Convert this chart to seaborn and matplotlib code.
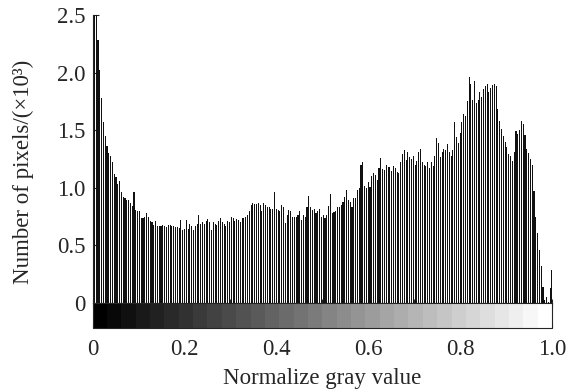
import numpy as np
import pandas as pd
import matplotlib
matplotlib.use("Agg")
import matplotlib.pyplot as plt
from matplotlib.colors import Normalize
from matplotlib.colorbar import ColorbarBase
import seaborn as sns

# pixel counts (x10^3) per gray level, 256 bins
counts_dark = [2.9, 2.7, 2.55, 2.28, 2.02, 1.78, 1.57, 1.45, 1.36, 1.30,
               1.28, 1.22, 1.12, 1.09, 1.03, 1.06, 0.96, 0.92, 0.91, 0.89,
               0.89, 0.87, 0.84, 0.96, 0.81, 0.80, 0.80, 0.74, 0.74, 0.75,
               0.78, 0.75, 0.71, 0.70, 0.68, 0.71, 0.67, 0.67, 0.67, 0.68,
               0.67]
counts_low = [0.66, 0.68, 0.68, 0.67, 0.67, 0.66, 0.66, 0.65, 0.72, 0.63,
              0.64, 0.72, 0.64, 0.69, 0.67, 0.63, 0.67, 0.69, 0.76, 0.69,
              0.70, 0.69, 0.71, 0.73, 0.70, 0.63, 0.70, 0.69, 0.68, 0.71,
              0.74, 0.70, 0.69, 0.67, 0.71, 0.70, 0.75, 0.74, 0.71, 0.73,
              0.72, 0.70, 0.74]
counts_mid = [0.74, 0.75, 0.76, 0.80, 0.85, 0.87, 0.86, 0.86, 0.87, 0.855,
              0.80, 0.87, 0.855, 0.83, 0.83, 0.82, 0.82, 0.96, 0.82, 0.81,
              0.80, 0.855, 0.83, 0.695, 0.76, 0.81, 0.80, 0.75, 0.745, 0.75,
              0.76, 0.80, 0.72, 0.76, 0.75, 0.835, 0.93, 0.83, 0.81, 0.82,
              0.78, 0.80]
counts_rise = [0.82, 0.75, 0.76, 0.74, 0.76, 0.84, 0.95, 0.78, 0.79, 0.80,
               0.83, 0.83, 0.85, 0.88, 0.92, 0.98, 0.89, 0.88, 0.835, 0.91,
               0.91, 0.98, 1.00, 1.20, 1.22, 1.015, 1.00, 1.05, 1.01, 1.10,
               1.13, 1.11, 1.07, 1.175, 1.26, 1.16, 1.155, 1.20, 1.18, 1.18,
               1.15, 1.19]
counts_light = [1.175, 1.14, 1.13, 1.22, 1.29, 1.33, 1.24, 1.31, 1.27, 1.25,
                1.28, 1.20, 1.23, 1.31, 1.335, 1.22, 1.20, 1.19, 1.22, 1.175,
                1.22, 1.19, 1.28, 1.43, 1.39, 1.27, 1.31, 1.335, 1.33, 1.38,
                1.315, 1.28, 1.33, 1.57, 1.44, 1.39, 1.48, 1.57, 1.64, 1.62,
                1.75, 1.96]
counts_bright = [1.90, 1.76, 1.93, 1.74, 1.76, 1.83, 1.79, 1.86, 1.88, 1.90,
                 1.835, 1.87, 1.89, 1.90, 1.88, 1.68, 1.58, 1.51, 1.45, 1.40,
                 1.35, 1.29, 1.28, 1.23, 1.31, 1.495, 1.47, 1.50, 1.58, 1.55,
                 1.46, 1.335, 1.30, 1.25, 1.20, 0.97, 0.75, 0.61, 0.46, 0.32,
                 0.14, 0.03, 0.055, 0.01, 0.13, 0.29]

counts = counts_dark + counts_low + counts_mid + counts_rise + counts_light + counts_bright
n_bins = len(counts)
gray_level = np.arange(n_bins) / (n_bins - 1)
df = pd.DataFrame({"gray": gray_level, "count": counts})

y_ticks = [0, 0.5, 1.0, 1.5, 2.0, 2.5]
y_labels = ["0", "0.5", "1.0", "1.5", "2.0", "2.5"]
x_labels = ["0", "", "0.2", "", "0.4", "", "0.6", "", "0.8", "", "1.0"]

FS = 16.5

sns.set_style("ticks")
plt.rcParams['font.family'] = ['Liberation Serif', 'DejaVu Serif']
plt.rcParams['xtick.direction'] = 'in'
plt.rcParams['ytick.direction'] = 'in'

fig = plt.figure(figsize=(5.75, 3.91), dpi=100)
ax = fig.add_axes([0.161, 0.225, 0.799, 0.7366])
cax = fig.add_axes([0.161, 0.161, 0.799, 0.064])

half = 0.5 / (n_bins - 1)
sns.histplot(data=df, x="gray", weights="count", bins=n_bins,
             binrange=(-half, 1 + half), shrink=0.6, color="#111111",
             alpha=1, linewidth=0, edgecolor="none", ax=ax)

ax.set_xlim(0, 1)
ax.set_ylim(0, 2.5)
ax.set_yticks(y_ticks)
ax.set_yticklabels(y_labels, fontsize=FS)
ax.set_xticks(np.arange(0, 1.01, 0.1))
ax.set_xticklabels([])
ax.tick_params(axis='x', length=3, width=0.8)
ax.tick_params(axis='y', length=4, width=0.8, pad=5)
ax.set_xlabel("")
ax.set_ylabel("Number of pixels/(×10³)", fontsize=FS)
# label centred on histogram + colour strip, as in the original
ax.yaxis.set_label_coords(-0.128, 0.455)
sns.despine(ax=ax, top=True, right=True)
for s in ax.spines.values():
    s.set_linewidth(0.8)

cb = ColorbarBase(cax, cmap=plt.get_cmap('gray', 32), norm=Normalize(0, 1),
                  orientation='horizontal')
cb.outline.set_linewidth(0.8)
cax.set_xticks(np.arange(0, 1.01, 0.1))
cax.set_xticklabels(x_labels, fontsize=FS)
cax.tick_params(axis='x', which='both', direction='in', top=True, bottom=True,
                length=3, width=0.8, pad=8)
cax.set_xlabel("Normalize gray value", fontsize=FS, labelpad=6)

fig.savefig("out.png", dpi=100)
